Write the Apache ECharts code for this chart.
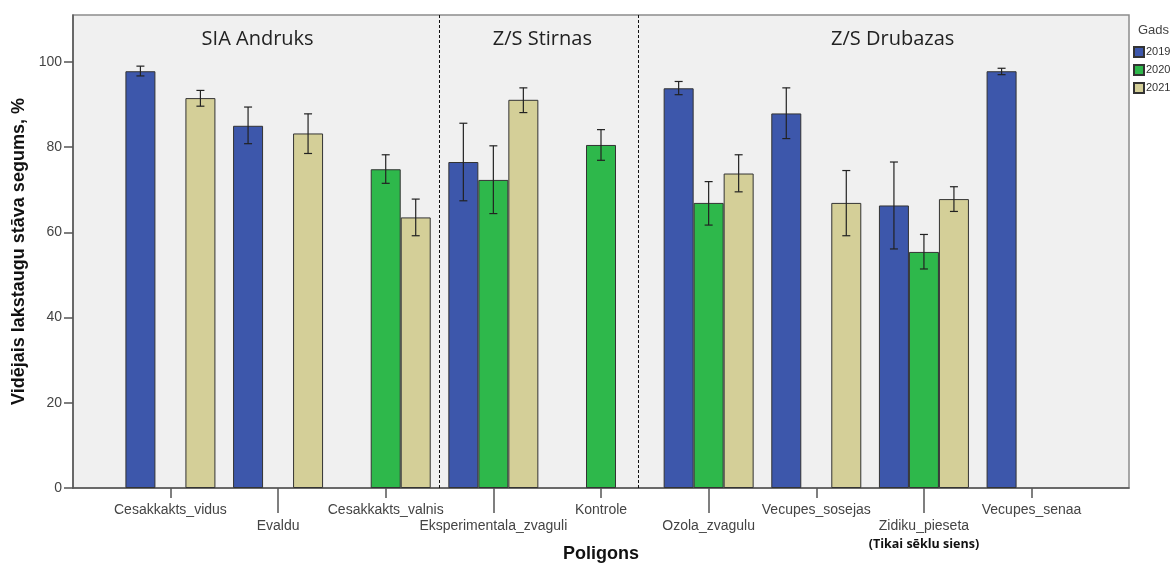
<!DOCTYPE html>
<html>
<head>
<meta charset="utf-8">
<script src="https://cdn.jsdelivr.net/npm/echarts@6/dist/echarts.min.js"></script>
<style>
html,body{margin:0;padding:0;background:#fff;}
#chart{width:1175px;height:563px;}
</style>
</head>
<body>
<div id="chart"></div>
<script>
const categories = ['Cesakkakts_vidus','Evaldu','Cesakkakts_valnis','Eksperimentala_zvaguli','Kontrole','Ozola_zvagulu','Vecupes_sosejas','Zidiku_pieseta','Vecupes_senaa'];
const notes = ['', '', '', '', '', '', '', '(Tikai sēklu siens)', ''];
const years = ['2019', '2020', '2021'];
const mean2019 = [97.8, 85.0, null, 76.5, null, 93.8, 87.9, 66.3, 97.8];
const low2019  = [96.7, 80.8, null, 67.4, null, 92.3, 82.0, 56.1, 97.0];
const high2019 = [99.0, 89.4, null, 85.6, null, 95.4, 93.9, 76.5, 98.5];
const mean2020 = [null, null, 74.8, 72.3, 80.5, 66.9, null, 55.4, null];
const low2020  = [null, null, 71.5, 64.4, 76.9, 61.7, null, 51.4, null];
const high2020 = [null, null, 78.2, 80.3, 84.1, 71.9, null, 59.5, null];
const mean2021 = [91.5, 83.2, 63.5, 91.1, null, 73.8, 66.9, 67.8, null];
const low2021  = [89.6, 78.5, 59.2, 88.1, null, 69.5, 59.2, 64.9, null];
const high2021 = [93.3, 87.8, 67.8, 93.9, null, 78.2, 74.5, 70.7, null];
const yTicks = [0, 20, 40, 60, 80, 100];
const groupNames = ['SIA Andruks', 'Z/S Stirnas', 'Z/S Drubazas'];
const groupPos = [0.81, 3.455, 6.71];
const separators = [2.5, 4.35];

const means = [mean2019, mean2020, mean2021];
const lows = [low2019, low2020, low2021];
const highs = [high2019, high2020, high2021];
const colors = ['#3d57ab', '#2eb84b', '#d4cf98'];
const BAR_W = 30;
const X_MIN = -0.905, X_MAX = 8.905;
const FONT = '"Liberation Sans", Arial, sans-serif';

const evenIdx = categories.map((c, i) => i).filter(i => i % 2 === 0);
const oddIdx = categories.map((c, i) => i).filter(i => i % 2 === 1);

function catLabel(v) {
  const i = Math.round(v);
  const name = categories[i] || '';
  return notes[i] ? '{a|' + name + '}\n{b|' + notes[i] + '}' : '{a|' + name + '}';
}
const labelRich = {
  a: {fontFamily: FONT, fontSize: 14, color: '#444', lineHeight: 17},
  b: {fontFamily: '"Open Sans", sans-serif', fontSize: 12.5, fontWeight: 'bold', color: '#111', lineHeight: 19}
};

const series = [];
years.forEach((y, k) => {
  series.push({
    name: y,
    type: 'bar',
    xAxisIndex: 0,
    yAxisIndex: 0,
    barWidth: BAR_W,
    barGap: '0%',
    itemStyle: {color: colors[k], borderColor: '#333', borderWidth: 1},
    emphasis: {disabled: true},
    data: means[k].map((v, i) => v == null ? null : [i, v]).filter(d => d)
  });
});
years.forEach((y, k) => {
  series.push({
    name: y + ' err',
    type: 'custom',
    xAxisIndex: 0,
    yAxisIndex: 0,
    z: 5,
    silent: true,
    encode: {x: 0, y: [1, 2]},
    data: lows[k].map((lo, i) => lo == null ? null : [i, lo, highs[k][i]]).filter(d => d),
    renderItem: function (params, api) {
      const x = api.value(0);
      const p1 = api.coord([x, api.value(1)]);
      const p2 = api.coord([x, api.value(2)]);
      const cx = p1[0] + (k - 1) * BAR_W;
      const cap = 4;
      const st = {stroke: '#222', lineWidth: 1.2};
      return {type: 'group', children: [
        {type: 'line', shape: {x1: cx, y1: p1[1], x2: cx, y2: p2[1]}, style: st},
        {type: 'line', shape: {x1: cx - cap, y1: p1[1], x2: cx + cap, y2: p1[1]}, style: st},
        {type: 'line', shape: {x1: cx - cap, y1: p2[1], x2: cx + cap, y2: p2[1]}, style: st}
      ]};
    }
  });
});
series.push({
  type: 'scatter',
  xAxisIndex: 0,
  yAxisIndex: 0,
  symbolSize: 0,
  silent: true,
  itemStyle: {opacity: 1},
  data: groupNames.map((g, i) => [groupPos[i], 105.2, g]),
  label: {
    show: true, position: 'inside',
    formatter: p => p.value[2],
    fontFamily: '"Open Sans", sans-serif', fontSize: 20, color: '#222'
  },
  markLine: {
    silent: true,
    symbol: 'none',
    label: {show: false},
    lineStyle: {color: '#111', type: [3, 2], width: 1},
    data: separators.map(x => ({xAxis: x}))
  }
});

const option = {
  animation: false,
  backgroundColor: '#fff',
  title: [{
    text: 'Gads', left: 1138, top: 24,
    textStyle: {fontFamily: FONT, fontSize: 13, fontWeight: 'normal', color: '#444'}, padding: 0
  }],
  legend: {
    data: years,
    orient: 'vertical',
    left: 1133, top: 46,
    padding: 0,
    itemWidth: 10, itemHeight: 10, itemGap: 6,
    icon: 'rect',
    selectedMode: false,
    textStyle: {fontFamily: FONT, fontSize: 11, color: '#333', padding: [0, 0, 0, -3]}
  },
  grid: {
    left: 73, right: 46, top: 15, bottom: 75,
    outerBoundsMode: 'none',
    containLabel: false,
    show: true, backgroundColor: '#f0f0f0', borderColor: '#8c8c8c', borderWidth: 1.5
  },
  xAxis: [{
    type: 'value', min: X_MIN, max: X_MAX, position: 'bottom',
    splitLine: {show: false},
    axisLine: {show: true, onZero: false, lineStyle: {color: '#555', width: 1.5}},
    axisTick: {show: true, customValues: evenIdx, length: 10, lineStyle: {color: '#555', width: 1.5}},
    axisLabel: {show: true, customValues: evenIdx, margin: 14, formatter: catLabel, rich: labelRich},
    name: 'Poligons', nameLocation: 'middle', nameGap: 57,
    nameTextStyle: {fontFamily: FONT, fontSize: 18, fontWeight: 'bold', color: '#111'}
  }, {
    type: 'value', min: X_MIN, max: X_MAX, position: 'bottom',
    splitLine: {show: false},
    axisLine: {show: false, onZero: false},
    axisTick: {show: true, customValues: oddIdx, length: 25, lineStyle: {color: '#555', width: 1.5}},
    axisLabel: {show: true, customValues: oddIdx, margin: 30, formatter: catLabel, rich: labelRich}
  }],
  yAxis: [{
    type: 'value', min: 0, max: 111,
    splitLine: {show: false},
    axisLine: {show: true, onZero: false, lineStyle: {color: '#555', width: 1.5}},
    axisTick: {show: true, customValues: yTicks, length: 9, lineStyle: {color: '#555', width: 1.5}},
    axisLabel: {show: true, customValues: yTicks, margin: 11, fontFamily: FONT, fontSize: 14, color: '#444'},
    name: 'Vidējais lakstaugu stāva segums, %', nameLocation: 'middle', nameGap: 43,
    nameTextStyle: {fontFamily: FONT, fontSize: 18, fontWeight: 'bold', color: '#111'}
  }],
  series: series
};
const chart = echarts.init(document.getElementById('chart'), null, {renderer: 'canvas'});
chart.setOption(option);
</script>
</body>
</html>
